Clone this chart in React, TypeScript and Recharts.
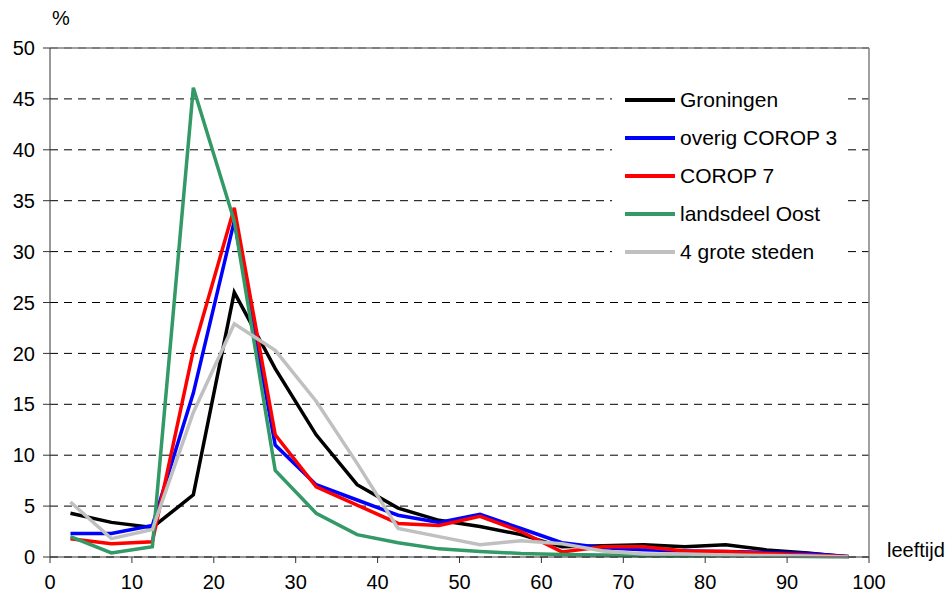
import { LineChart, Line, XAxis, YAxis, CartesianGrid, ReferenceLine, Legend } from "recharts"

// midpoints of the 5-year age classes
const ages = [2.5, 7.5, 12.5, 17.5, 22.5, 27.5, 32.5, 37.5, 42.5, 47.5, 52.5, 57.5, 62.5, 67.5, 72.5, 77.5, 82.5, 87.5, 92.5, 97.5]

const groningen = [4.3, 3.4, 2.9, 6.1, 26.0, 18.5, 12.0, 7.1, 4.8, 3.6, 3.0, 2.2, 1.0, 1.1, 1.2, 1.0, 1.2, 0.7, 0.4, 0.0]
const overigCorop3 = [2.3, 2.3, 3.1, 16.1, 33.0, 11.0, 7.1, 5.6, 4.1, 3.4, 4.2, 2.8, 1.4, 0.9, 0.7, 0.6, 0.55, 0.45, 0.35, 0.05]
const corop7 = [1.8, 1.3, 1.5, 20.3, 34.3, 12.0, 6.9, 5.1, 3.3, 3.1, 4.0, 2.5, 0.5, 1.0, 1.0, 0.6, 0.55, 0.35, 0.2, 0.05]
const landsdeelOost = [2.0, 0.4, 1.0, 46.1, 33.0, 8.5, 4.3, 2.2, 1.4, 0.8, 0.55, 0.35, 0.25, 0.2, 0.12, 0.1, 0.15, 0.1, 0.05, 0.0]
const groteSteden = [5.4, 1.8, 2.7, 14.2, 22.9, 20.3, 15.3, 9.2, 2.8, 2.0, 1.2, 1.6, 1.3, 0.6, 0.3, 0.3, 0.2, 0.15, 0.1, 0.0]

const xTicks = [0, 10, 20, 30, 40, 50, 60, 70, 80, 90, 100]
const yTicks = [0, 5, 10, 15, 20, 25, 30, 35, 40, 45, 50]

const series = [
  { key: "groningen", name: "Groningen", color: "#000000", values: groningen },
  { key: "overig", name: "overig COROP 3", color: "#0000ff", values: overigCorop3 },
  { key: "corop7", name: "COROP 7", color: "#ff0000", values: corop7 },
  { key: "oost", name: "landsdeel Oost", color: "#339966", values: landsdeelOost },
  { key: "steden", name: "4 grote steden", color: "#c0c0c0", values: groteSteden },
]

const data = ages.map((age, i) => {
  const row: Record<string, number> = { age }
  series.forEach((s) => {
    row[s.key] = s.values[i]
  })
  return row
})

const font = "'Liberation Sans', Arial, sans-serif"
const axisColor = "#333333"

function LegendBox() {
  return (
    <div style={{ background: "#fff", padding: "9px 0 8px 13px", fontFamily: font, fontSize: 21, color: "#000" }}>
      {series.map((s) => (
        <div key={s.key} style={{ display: "flex", alignItems: "center", height: 38 }}>
          <span style={{ display: "inline-block", width: 50, height: 4, background: s.color, marginRight: 5 }} />
          <span>{s.name}</span>
        </div>
      ))}
    </div>
  )
}

export default function App() {
  return (
    <div style={{ position: "absolute", left: 0, top: 0, width: 952, height: 603, background: "#fff" }}>
      <LineChart width={952} height={603} data={data} margin={{ top: 48, right: 83, bottom: 0, left: 0 }}>
        <CartesianGrid vertical={false} stroke="#000" strokeDasharray="8 6" />
        <XAxis
          type="number"
          dataKey="age"
          domain={[0, 100]}
          ticks={xTicks}
          interval={0}
          height={46}
          tickSize={6}
          tickMargin={12}
          stroke={axisColor}
          tick={{ fontSize: 20, fill: "#000", fontFamily: font }}
        />
        <YAxis
          type="number"
          domain={[0, 50]}
          ticks={yTicks}
          interval={0}
          width={50}
          tickSize={7}
          tickMargin={8}
          stroke={axisColor}
          tick={{ fontSize: 20, fill: "#000", fontFamily: font }}
        />
        <ReferenceLine y={50} stroke="#808080" strokeWidth={1.5} />
        <ReferenceLine x={100} stroke="#808080" strokeWidth={1.5} />
        {series.map((s) => (
          <Line
            key={s.key}
            type="linear"
            dataKey={s.key}
            name={s.name}
            stroke={s.color}
            strokeWidth={3.5}
            dot={false}
            isAnimationActive={false}
          />
        ))}
        <Legend
          layout="vertical"
          align="center"
          verticalAlign="middle"
          wrapperStyle={{ top: 72, left: 612, width: 234 }}
          content={() => <LegendBox />}
        />
      </LineChart>
      <div style={{ position: "absolute", left: 52, top: 8, fontFamily: font, fontSize: 20, lineHeight: "20px" }}>%</div>
      <div style={{ position: "absolute", left: 887, top: 540, fontFamily: font, fontSize: 20, lineHeight: "20px" }}>leeftijd</div>
    </div>
  )
}
